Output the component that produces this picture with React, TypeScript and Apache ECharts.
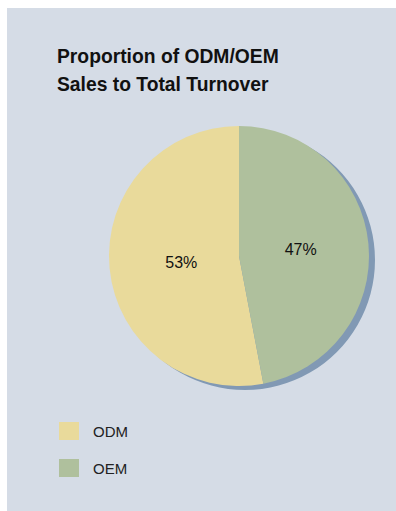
import React, { useEffect, useRef } from "react";
import * as echarts from "echarts";

const categories = ["ODM", "OEM"];
const shares = [53, 47];
const sliceColors = ["#e9da9b", "#afc09d"];
const titleLines = ["Proportion of ODM/OEM", "Sales to Total Turnover"];

export default function App() {
  const ref = useRef<HTMLDivElement>(null);
  useEffect(() => {
    if (!ref.current) return;
    const chart = echarts.init(ref.current, undefined, { renderer: "svg" });
    const font = "'Liberation Sans', Arial, Helvetica, sans-serif";
    const labelPads = [
      [0, 0, 12, 20],
      [0, 12, 0, 0],
    ];
    chart.setOption({
      animation: false,
      backgroundColor: "#ffffff",
      graphic: [
        {
          type: "rect",
          z: -10,
          silent: true,
          shape: { x: 7, y: 8, width: 389, height: 503 },
          style: { fill: "#d5dce6" },
        },
      ],
      title: {
        text: titleLines.join("\n"),
        left: 57,
        top: 42,
        padding: 0,
        textStyle: {
          fontFamily: font,
          fontWeight: "bold",
          fontSize: 19.3,
          lineHeight: 28,
          color: "#111111",
        },
      },
      legend: {
        data: categories,
        orient: "vertical",
        left: 59,
        top: 422,
        padding: 0,
        itemWidth: 20,
        itemHeight: 18,
        itemGap: 19,
        icon: "rect",
        selectedMode: false,
        textStyle: {
          fontFamily: font,
          fontSize: 15,
          color: "#222222",
          padding: [0, 0, 0, 9],
        },
      },
      series: [
        {
          type: "pie",
          name: "shadow",
          silent: true,
          center: [245, 260],
          radius: 130,
          z: 1,
          label: { show: false },
          labelLine: { show: false },
          itemStyle: { color: "#8199b4" },
          data: [{ name: "_shadow", value: 1 }],
        },
        {
          type: "pie",
          center: [239, 256],
          radius: 130,
          startAngle: 90,
          clockwise: false,
          z: 2,
          silent: true,
          label: {
            show: true,
            position: "inner",
            formatter: "{c}%",
            fontFamily: font,
            fontSize: 16,
            color: "#111111",
          },
          labelLine: { show: false },
          itemStyle: { borderWidth: 0 },
          data: categories.map((c, i) => ({
            name: c,
            value: shares[i],
            itemStyle: { color: sliceColors[i] },
            label: { padding: labelPads[i] },
          })),
        },
      ],
    });
    return () => chart.dispose();
  }, []);
  return (
    <div
      ref={ref}
      style={{ position: "fixed", left: 0, top: 0, width: 396, height: 511 }}
    />
  );
}
